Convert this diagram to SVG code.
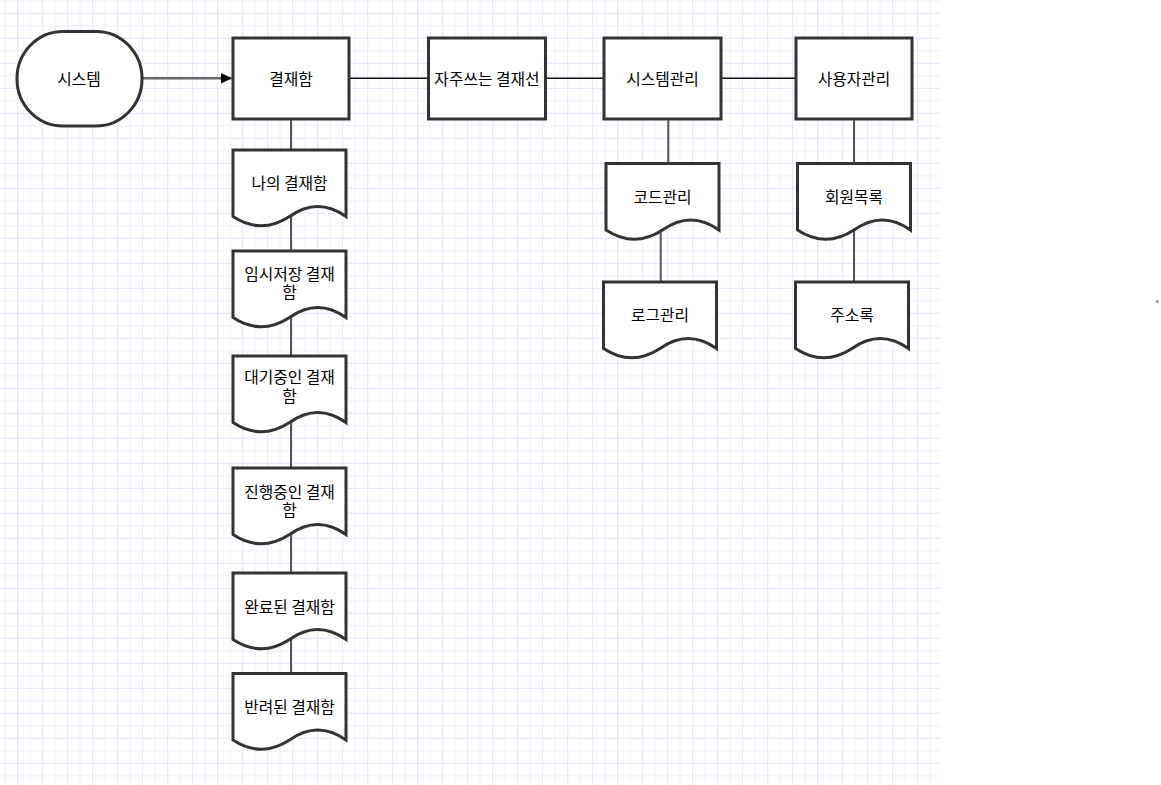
<svg xmlns="http://www.w3.org/2000/svg" xmlns:xlink="http://www.w3.org/1999/xlink" width="1161" height="785" viewBox="0 0 1161 785">
<style>
.box{fill:#fff;stroke:#333;stroke-width:3}
.doc{fill:#fff;stroke:#333;stroke-width:3;stroke-linejoin:miter}
.t{font-family:"Noto Sans CJK KR","Noto Sans",sans-serif;font-size:15.8px;fill:#000;text-anchor:middle;dominant-baseline:central}
.v{stroke:#555;stroke-width:2;fill:none}
.h{stroke:#111;stroke-width:1.5;fill:none}
.a{stroke:#666;stroke-width:2.5;fill:none}
</style>
<defs>
<pattern id="grid" patternUnits="userSpaceOnUse" x="17.2" y="12.8" width="25" height="25">
<rect x="0" y="0" width="25" height="25" fill="#fff"/>
<rect x="12.5" y="0" width="1" height="25" fill="#f0eefc"/>
<rect x="0" y="12.5" width="25" height="1" fill="#f0eefc"/>
<rect x="0" y="0" width="1" height="25" fill="#e6e2fb"/>
<rect x="0" y="0" width="25" height="1" fill="#e6e2fb"/>
</pattern>
<path id="doc" class="doc" d="M0,0 H113 V66.5 Q84.75,46.5 56.5,66.5 Q28.25,85 0,66.5 Z"/>
<marker id="arr" markerWidth="12" markerHeight="12" viewBox="0 0 12 12" refX="11" refY="6" orient="auto" markerUnits="userSpaceOnUse">
<path d="M0,0.5 L11.5,6 L0,11.5 Z" fill="#000"/>
</marker>
</defs>
<rect x="0" y="0" width="1161" height="785" fill="#fff"/>
<rect x="0" y="0" width="940" height="785" fill="url(#grid)"/>
<circle cx="1157.3" cy="301.5" r="1.6" fill="#999"/>

<g id="connectors">
<line class="a" x1="142" y1="78.3" x2="231.5" y2="78.3" marker-end="url(#arr)"/>
<line class="h" x1="349" y1="78.3" x2="428" y2="78.3"/>
<line class="h" x1="546" y1="78.3" x2="604" y2="78.3"/>
<line class="h" x1="721" y1="78.3" x2="796" y2="78.3"/>
<line class="v" x1="291" y1="119" x2="291" y2="150"/>
<line class="v" x1="291" y1="216" x2="291" y2="251"/>
<line class="v" x1="291" y1="317" x2="291" y2="356"/>
<line class="v" x1="291" y1="422" x2="291" y2="468"/>
<line class="v" x1="291" y1="534" x2="291" y2="573"/>
<line class="v" x1="291" y1="639" x2="291" y2="673"/>
<line class="v" x1="668.3" y1="119" x2="668.3" y2="163"/>
<line class="v" x1="660.7" y1="229" x2="660.7" y2="282"/>
<line class="v" x1="854" y1="119" x2="854" y2="163"/>
<line class="v" x1="854" y1="229" x2="854" y2="282"/>
</g>

<g id="n-system">
<rect class="box" x="17" y="31.5" width="125" height="94.5" rx="46" ry="47"/>
<text class="t" x="79" y="78.3">시스템</text>
</g>
<g id="n-approval">
<rect class="box" x="233" y="38" width="116" height="81"/>
<text class="t" x="291" y="78.3">결재함</text>
</g>
<g id="n-frequent">
<rect class="box" x="428.5" y="38" width="117" height="81"/>
<text class="t" x="487" y="78.3">자주쓰는 결재선</text>
</g>
<g id="n-sysadmin">
<rect class="box" x="604" y="38" width="117" height="81"/>
<text class="t" x="662.5" y="78.3">시스템관리</text>
</g>
<g id="n-useradmin">
<rect class="box" x="796" y="38" width="116" height="81"/>
<text class="t" x="854" y="78.3">사용자관리</text>
</g>

<g id="n-my">
<use xlink:href="#doc" x="233" y="150"/>
<text class="t" x="289.5" y="182">나의 결재함</text>
</g>
<g id="n-temp">
<use xlink:href="#doc" x="233" y="251"/>
<text class="t" x="289.5" y="273.3">임시저장 결재</text>
<text class="t" x="289.5" y="291.7">함</text>
</g>
<g id="n-wait">
<use xlink:href="#doc" x="233" y="356"/>
<text class="t" x="289.5" y="376.7">대기중인 결재</text>
<text class="t" x="289.5" y="395.1">함</text>
</g>
<g id="n-progress">
<use xlink:href="#doc" x="233" y="468"/>
<text class="t" x="289.5" y="491.5">진행중인 결재</text>
<text class="t" x="289.5" y="509.5">함</text>
</g>
<g id="n-done">
<use xlink:href="#doc" x="233" y="573"/>
<text class="t" x="289.5" y="606.7">완료된 결재함</text>
</g>
<g id="n-rejected">
<use xlink:href="#doc" x="233" y="673.5"/>
<text class="t" x="289.5" y="706.7">반려된 결재함</text>
</g>
<g id="n-code">
<use xlink:href="#doc" x="606" y="163.5"/>
<text class="t" x="662.5" y="196">코드관리</text>
</g>
<g id="n-log">
<use xlink:href="#doc" x="603.5" y="282"/>
<text class="t" x="660" y="314">로그관리</text>
</g>
<g id="n-members">
<use xlink:href="#doc" x="797.5" y="163.5"/>
<text class="t" x="854" y="196">회원목록</text>
</g>
<g id="n-address">
<use xlink:href="#doc" x="795.5" y="282"/>
<text class="t" x="852" y="314">주소록</text>
</g>
</svg>
